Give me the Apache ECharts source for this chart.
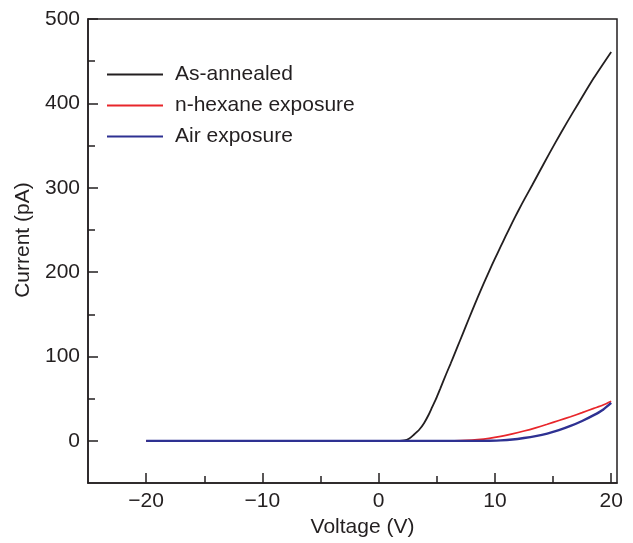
<!DOCTYPE html>
<html>
<head>
<meta charset="utf-8">
<script src="https://cdn.jsdelivr.net/npm/echarts@6/dist/echarts.min.js"></script>
<style>html,body{margin:0;padding:0;background:#fff}#c{width:633px;height:543px}</style>
</head>
<body>
<div id="c"></div>
<script>
// ---- data ----
const seriesNames = ['As-annealed', 'n-hexane exposure', 'Air exposure'];
const annealedV = [-20, -10, 0, 1.0, 1.8, 2.2, 2.6, 3.0, 3.5, 3.9, 4.3, 4.6, 5.0, 5.3, 5.8, 6.2, 6.6, 7.0, 7.5, 8.0, 8.5, 9.0, 9.5, 10.0, 10.5, 10.9, 11.5, 12.0, 12.6, 13.2, 14.2, 15.2, 16.2, 17.2, 18.5, 20.0];
const annealedI = [0, 0, 0, 0, 0, 0.5, 2.5, 7, 13.5, 21, 31, 40, 52, 62, 79, 92, 105.5, 119, 136, 153, 169.5, 185.5, 201, 216, 230.5, 242, 259, 272.5, 288, 303, 328.5, 353.5, 377.5, 400.5, 430, 461];
const hexaneV = [-20, -10, 0, 5, 6.5, 7.5, 8.5, 9.5, 10.5, 11.5, 12.5, 13.5, 14.5, 15.5, 16.5, 17.5, 18.5, 19.3, 20];
const hexaneI = [0, 0, 0, 0, 0.2, 0.6, 1.5, 3, 5.3, 8.3, 11.7, 15.5, 19.7, 24.2, 28.7, 33.5, 38.5, 42.5, 47];
const airV = [-20, -10, 0, 5, 8.5, 9.5, 10.5, 11.5, 12.5, 13.5, 14.5, 15.5, 16.5, 17.5, 18.5, 19.3, 20];
const airI = [0, 0, 0, 0, 0, 0.2, 0.6, 1.6, 3.4, 5.7, 8.7, 12.7, 17.7, 23.6, 30.5, 37, 45];
const xMajorTicks = [-20, -10, 0, 10, 20];
const xMinorTicks = [-15, -5, 5, 15];
const yMajorTicks = [0, 100, 200, 300, 400, 500];
const yMinorTicks = [50, 150, 250, 350, 450];
const xRange = [-25, 20.5];
const yRange = [-50, 500];

// ---- chart ----
const ink = '#231f20';
const red = '#e8262b';
const blue = '#2e3192';
const font = "'Liberation Sans', Arial, Helvetica, sans-serif";
const fs = 21;
const pairs = (xs, ys) => xs.map((x, i) => [x, ys[i]]);
const fmt = v => (v < 0 ? '\u2212' + Math.abs(v) : String(v));

const chart = echarts.init(document.getElementById('c'), null, {renderer: 'canvas'});
const baseX = {type: 'value', min: xRange[0], max: xRange[1], position: 'bottom', splitLine: {show: false}};
const baseY = {type: 'value', min: yRange[0], max: yRange[1], position: 'left', splitLine: {show: false}};
chart.setOption({
  animation: false,
  backgroundColor: '#fff',
  textStyle: {fontFamily: font, color: ink},
  grid: {left: 88, top: 19, right: 16, bottom: 56, show: true, borderColor: ink, borderWidth: 1.5, containLabel: false},
  legend: {
    orient: 'vertical', left: 102, top: 59,
    itemWidth: 56, itemHeight: 2, itemGap: 10,
    icon: 'rect',
    textStyle: {fontSize: fs, color: ink, fontFamily: font, lineHeight: 20, padding: [0, 0, 0, 7]},
    data: [
      {name: seriesNames[0], itemStyle: {color: ink}},
      {name: seriesNames[1], itemStyle: {color: red}},
      {name: seriesNames[2], itemStyle: {color: blue}}
    ]
  },
  xAxis: [
    Object.assign({}, baseX, {
      name: 'Voltage (V)', nameLocation: 'middle', nameGap: 29,
      nameTextStyle: {fontSize: fs, color: ink, fontFamily: font, padding: [0, 0, 0, 20]},
      axisLine: {show: true, onZero: false, lineStyle: {color: ink, width: 1.5}},
      axisTick: {show: true, inside: true, length: 10, lineStyle: {color: ink, width: 1.5}, customValues: xMajorTicks},
      axisLabel: {show: true, margin: 8, fontSize: fs, color: ink, fontFamily: font, formatter: fmt, customValues: xMajorTicks}
    }),
    Object.assign({}, baseX, {
      axisLine: {show: false, onZero: false},
      axisTick: {show: true, inside: true, length: 7, lineStyle: {color: ink, width: 1.5}, customValues: xMinorTicks},
      axisLabel: {show: false}
    })
  ],
  yAxis: [
    Object.assign({}, baseY, {
      name: 'Current (pA)', nameLocation: 'middle', nameGap: 51,
      nameTextStyle: {fontSize: fs, color: ink, fontFamily: font, padding: [0, 0, 0, 22]},
      axisLine: {show: true, onZero: false, lineStyle: {color: ink, width: 1.5}},
      axisTick: {show: true, inside: true, length: 10, lineStyle: {color: ink, width: 1.5}, customValues: yMajorTicks},
      axisLabel: {show: true, margin: 8, fontSize: fs, color: ink, fontFamily: font, formatter: fmt, customValues: yMajorTicks}
    }),
    Object.assign({}, baseY, {
      axisLine: {show: false, onZero: false},
      axisTick: {show: true, inside: true, length: 7, lineStyle: {color: ink, width: 1.5}, customValues: yMinorTicks},
      axisLabel: {show: false}
    })
  ],
  series: [
    {name: seriesNames[0], type: 'line', xAxisIndex: 0, yAxisIndex: 0, data: pairs(annealedV, annealedI), symbol: 'none', smooth: 0.25,
     lineStyle: {color: ink, width: 1.8}, itemStyle: {color: ink}},
    {name: seriesNames[1], type: 'line', xAxisIndex: 0, yAxisIndex: 0, data: pairs(hexaneV, hexaneI), symbol: 'none', smooth: 0.25,
     lineStyle: {color: red, width: 1.7}, itemStyle: {color: red}},
    {name: seriesNames[2], type: 'line', xAxisIndex: 0, yAxisIndex: 0, data: pairs(airV, airI), symbol: 'none', smooth: 0.25,
     lineStyle: {color: blue, width: 2.4}, itemStyle: {color: blue}}
  ]
});
</script>
</body>
</html>
